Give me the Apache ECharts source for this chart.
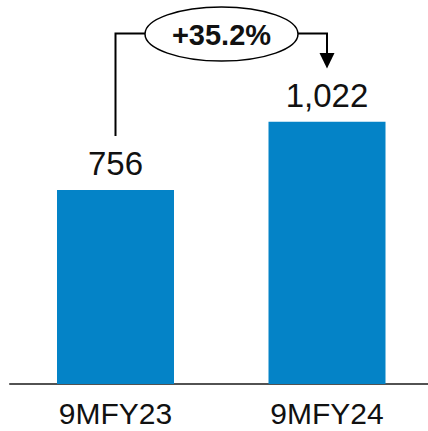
<!DOCTYPE html>
<html><head><meta charset="utf-8">
<script src="https://cdn.jsdelivr.net/npm/echarts@6/dist/echarts.min.js"></script>
<style>html,body{margin:0;padding:0;background:#fff}#c{width:428px;height:431px}</style>
</head><body><div id="c"></div>
<script>
const categories = ['9MFY23', '9MFY24'];
const values = [756, 1022];
const growthLabel = '+35.2%';

const chart = echarts.init(document.getElementById('c'), null, {renderer: 'svg'});
const FONT = '"Liberation Sans", Arial, sans-serif';
chart.setOption({
  animation: false,
  grid: {left: 9.75, width: 423, top: 24.7, bottom: 47, outerBoundsMode: 'none', containLabel: false},
  xAxis: {
    type: 'category', data: categories,
    axisLine: {lineStyle: {color: '#1a1a1a', width: 1.5}},
    axisTick: {show: false},
    axisLabel: {color: '#111', fontSize: 30, fontFamily: FONT, margin: 14}
  },
  yAxis: {type: 'value', min: 0, max: 1400, show: false, splitLine: {show: false}},
  series: [{
    type: 'bar', data: values, barWidth: 117,
    itemStyle: {color: '#0483C7'},
    label: {show: true, position: 'top', distance: 10, color: '#111', fontSize: 33, fontFamily: FONT,
      formatter: p => p.value.toLocaleString('en-US')}
  }]
});

const x1 = chart.convertToPixel({xAxisIndex: 0}, categories[0]);
const x2 = chart.convertToPixel({xAxisIndex: 0}, categories[1]);
const lineY = 33.5, cx = 221.5, cy = 34, rx = 76.5, ry = 27;
const stroke = {stroke: '#000', lineWidth: 2, fill: null};
chart.setOption({
  graphic: [
    {type: 'polyline', shape: {points: [[x1, 136], [x1, lineY], [cx - rx, lineY]]}, style: stroke},
    {type: 'polyline', shape: {points: [[cx + rx, lineY], [x2, lineY], [x2, 54]]}, style: stroke},
    {type: 'polygon', shape: {points: [[x2 - 7.5, 53], [x2 + 7.5, 53], [x2, 68.5]]}, style: {fill: '#000'}},
    {type: 'ellipse', shape: {cx: cx, cy: cy, rx: rx, ry: ry}, style: {fill: '#fff', stroke: '#000', lineWidth: 1.5}},
    {type: 'text', x: cx, y: cy + 1, style: {text: growthLabel, fontSize: 29, fontWeight: 'bold', fontFamily: FONT,
      fill: '#111', align: 'center', verticalAlign: 'middle'}}
  ]
});
</script></body></html>
